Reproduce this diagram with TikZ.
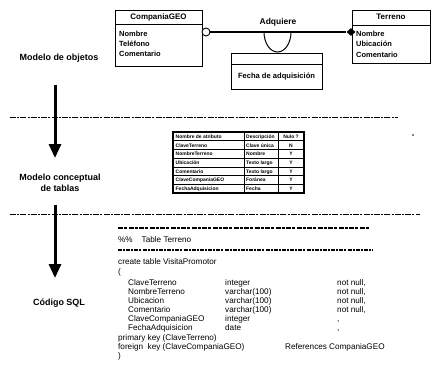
\documentclass[tikz,border=0pt]{standalone}
\usepackage{fontspec}
\setmainfont{Liberation Sans}
\usetikzlibrary{arrows.meta,shapes.geometric}

\begin{document}
\begin{tikzpicture}[x=1bp,y=-1bp,
  lbl/.style={font=\fontsize{9}{11.5}\selectfont\bfseries, align=center, inner sep=0},
  frame/.style={draw, line width=0.9bp, inner sep=0, outer sep=0, anchor=north west},
  ttl/.style={font=\fontsize{8}{9}\selectfont\bfseries, inner sep=0},
  attr/.style={font=\fontsize{7.5}{9}\selectfont\bfseries, anchor=base west, inner sep=0},
  code/.style={font=\fontsize{8.2}{10}\selectfont, anchor=base west, inner sep=0},
  cell/.style={font=\fontsize{5}{6}\selectfont\bfseries, anchor=base west, inner sep=0},
  ccell/.style={font=\fontsize{5}{6}\selectfont\bfseries, anchor=base, inner sep=0},
  bigarrow/.style={line width=3bp, -{Triangle[width=12bp,length=14bp]}},
  sepline/.style={line width=0.9bp, dash pattern=on 6bp off 1.2bp on 2bp off 1.2bp},
  dashrule/.style={line width=1.5bp, dash pattern=on 5bp off 1bp on 3bp off 1.5bp},
  thinrule/.style={line width=1.1bp, dash pattern=on 4bp off 1bp on 2bp off 1.2bp}]
\useasboundingbox (0,0) rectangle (434,386);

% ---------- left column: stages and arrows ----------
\node[lbl] (objetos) at (59,58) {Modelo de objetos};
\node[lbl] (conceptual) at (60,183) {Modelo conceptual\\de tablas};
\node[lbl] (sql) at (59,303) {Código SQL};

\coordinate (a1s) at (55,85);
\coordinate (a1e) at (55,158);
\coordinate (a2s) at (55,205);
\coordinate (a2e) at (55,278);
\draw[bigarrow] (a1s) -- (a1e);
\draw[bigarrow] (a2s) -- (a2e);

% separators
\coordinate (s1a) at (10,117.5);
\coordinate (s1b) at (398,117.5);
\coordinate (s2a) at (10,214);
\coordinate (s2b) at (420,214);
\draw[sepline] (s1a) -- (s1b);
\draw[sepline] (s2a) -- (s2b);

% ---------- object model ----------
\node[frame, minimum width=87bp, minimum height=56bp] (comp) at (115,10) {};
\draw[line width=0.9bp] (115,24) -- (202,24);
\node[ttl] (comptitle) at (158.5,17) {CompaniaGEO};
\node[attr] (c1) at (119,36) {Nombre};
\node[attr] (c2) at (119,46) {Teléfono};
\node[attr] (c3) at (119,56) {Comentario};

\node[frame, minimum width=78bp, minimum height=53bp] (terr) at (352,10) {};
\draw[line width=0.9bp] (352,25) -- (430,25);
\node[ttl] (terrtitle) at (391,17) {Terreno};
\node[attr] (t1) at (356,36) {Nombre};
\node[attr] (t2) at (356,46) {Ubicación};
\node[attr] (t3) at (356,57) {Comentario};

\node[circle, draw, line width=0.9bp, minimum size=8bp, inner sep=0, fill=white] (ring) at (206,32) {};
\node[diamond, fill=black, minimum width=9bp, minimum height=8bp, inner sep=0] (dia) at (351,32) {};
\draw[line width=1.1bp] (ring) -- (dia);
\node[ttl, font=\fontsize{8.5}{9}\selectfont\bfseries] (adq) at (278,22) {Adquiere};
\draw[line width=1bp] (264,32) arc[start angle=180, end angle=0, x radius=13.5, y radius=20];

\node[frame, minimum width=91bp, minimum height=36bp] (fecha) at (231,53) {};
\draw[line width=0.9bp] (231,64) -- (322,64);
\node[ttl, font=\fontsize{7.6}{9}\selectfont\bfseries] (fechatxt) at (276.5,77) {Fecha de adquisición};

% ---------- table ----------
\node[frame, line width=1.2bp, minimum width=131bp, minimum height=61bp] (tbl) at (173,132) {};
\foreach \yy in {140.7,149.4,158.1,166.9,175.6,184.3}
  \draw[line width=0.8bp] (173,\yy) -- (304,\yy);
\draw[line width=0.8bp] (244,132) -- (244,193);
\draw[line width=0.8bp] (278,132) -- (278,193);
\foreach \r/\a/\b/\c in {0/Nombre de atributo/Descripción/Nulo ?,
    1/ClaveTerreno/Clave única/N,
    2/NombreTerreno/Nombre/Y,
    3/Ubicación/Texto largo/Y,
    4/Comentario/Texto largo/Y,
    5/ClaveCompaniaGEO/Foránea/Y,
    6/FechaAdquisicion/Fecha/Y}{
  \pgfmathsetmacro{\rowy}{132+\r*8.714+6.4}
  \node[cell] (ca\r) at (175.5,\rowy) {\a};
  \node[cell] (cb\r) at (246,\rowy) {\b};
  \node[ccell] (cc\r) at (291,\rowy) {\c};
}
\fill (413,135) circle[radius=0.8bp];

% ---------- SQL code ----------
\coordinate (r1a) at (118,228);
\coordinate (r1b) at (370,228);
\coordinate (r2a) at (118,250);
\coordinate (r2b) at (373,250);
\draw[dashrule] (r1a) -- (r1b);
\draw[thinrule] (r2a) -- (r2b);
\node[code] (hdr) at (118,242) {\%\%\hspace{9bp}Table Terreno};
\node[code] (create) at (118,264) {create table VisitaPromotor};
\node[code] (open) at (118,274) {(};
\foreach \i/\n/\t/\z in {0/ClaveTerreno/integer/{not null,},
    1/NombreTerreno/varchar(100)/{not null,},
    2/Ubicacion/varchar(100)/{not null,},
    3/Comentario/varchar(100)/{not null,},
    4/ClaveCompaniaGEO/integer/{,},
    5/FechaAdquisicion/date/{,}}{
  \pgfmathsetmacro{\liney}{285+\i*9.1}
  \node[code] (n\i) at (128,\liney) {\n};
  \node[code] (ty\i) at (225,\liney) {\t};
  \node[code] (nu\i) at (337,\liney) {\z};
}
\node[code] (pk) at (118,340) {primary key (ClaveTerreno)};
\node[code] (fk) at (118,349) {foreign\ \ key (ClaveCompaniaGEO)};
\node[code] (ref) at (285,349) {References CompaniaGEO};
\node[code] (close) at (118,358) {)};
\end{tikzpicture}
\end{document}
